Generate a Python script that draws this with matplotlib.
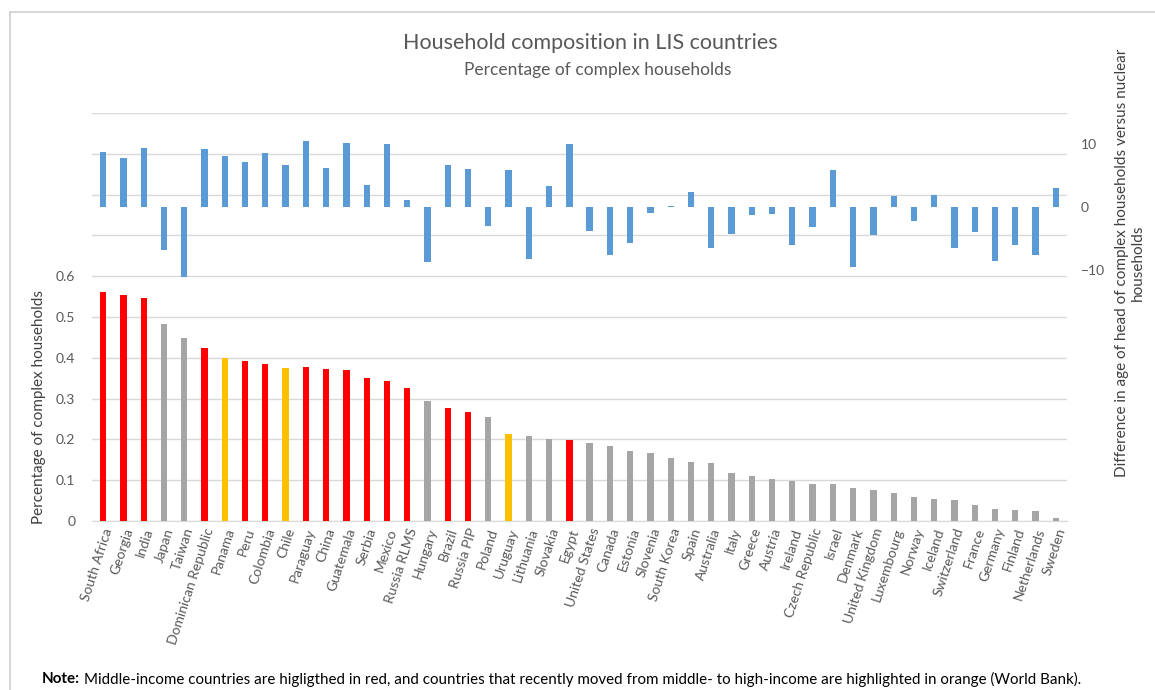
import matplotlib
matplotlib.use("Agg")
import matplotlib.pyplot as plt
from matplotlib.lines import Line2D

plt.rcParams['font.family'] = ['Lato', 'DejaVu Sans']

countries = ["South Africa", "Georgia", "India", "Japan", "Taiwan", "Dominican Republic",
             "Panama", "Peru", "Colombia", "Chile", "Paraguay", "China", "Guatemala",
             "Serbia", "Mexico", "Russia RLMS", "Hungary", "Brazil", "Russia PIP", "Poland",
             "Uruguay", "Lithuania", "Slovakia", "Egypt", "United States", "Canada",
             "Estonia", "Slovenia", "South Korea", "Spain", "Australia", "Italy", "Greece",
             "Austria", "Ireland", "Czech Republic", "Israel", "Denmark", "United Kingdom",
             "Luxembourg", "Norway", "Iceland", "Switzerland", "France", "Germany",
             "Finland", "Netherlands", "Sweden"]

share_complex = [0.562, 0.553, 0.546, 0.483, 0.448, 0.423, 0.399, 0.391, 0.386, 0.376,
                 0.377, 0.373, 0.369, 0.351, 0.344, 0.325, 0.293, 0.278, 0.268, 0.255,
                 0.214, 0.209, 0.201, 0.199, 0.190, 0.183, 0.171, 0.167, 0.154, 0.145,
                 0.142, 0.117, 0.110, 0.104, 0.099, 0.091, 0.091, 0.082, 0.075, 0.069,
                 0.059, 0.053, 0.051, 0.040, 0.029, 0.026, 0.025, 0.007]

age_diff = [8.8, 7.9, 9.4, -6.8, -11.2, 9.2, 8.2, 7.2, 8.7, 6.7,
            10.6, 6.3, 10.2, 3.6, 10.0, 1.1, -8.8, 6.7, 6.1, -3.0,
            5.9, -8.3, 3.4, 10.0, -3.8, -7.7, -5.7, -0.9, 0.2, 2.4,
            -6.5, -4.2, -1.2, -1.1, -6.1, -3.2, 5.9, -9.6, -4.5, 1.7,
            -2.2, 2.0, -6.5, -4.0, -8.5, -6.0, -7.7, 3.0]

# income group: M = middle income (red), R = recently moved to high income (orange), H = other (grey)
income_group = ["M", "M", "M", "H", "H", "M", "R", "M", "M", "R",
                "M", "M", "M", "M", "M", "M", "H", "M", "M", "H",
                "R", "H", "H", "M"] + ["H"] * 24

group_colors = {"M": "#ff0000", "R": "#ffc000", "H": "#a5a5a5"}

fig = plt.figure(figsize=(11.55, 6.9), dpi=100)
ax = fig.add_axes([92 / 1155, 1 - 521 / 690, (1067 - 92) / 1155, (521 - 113) / 690])

x = list(range(len(countries)))
ax.bar(x, share_complex, width=0.31, color=[group_colors[g] for g in income_group], zorder=3)
ax.set_ylim(0, 1.0)
ax.set_xlim(-0.55, 47.55)
ax.set_yticks([i / 10 for i in range(11)])
ax.set_yticklabels(["0", "0.1", "0.2", "0.3", "0.4", "0.5", "0.6", "", "", "", ""])
ax.grid(axis="y", color="#d9d9d9", linewidth=1.0, zorder=0)
ax.tick_params(axis="y", length=0, labelsize=10, labelcolor="#595959", pad=12)
ax.tick_params(axis="x", length=0, labelsize=10, labelcolor="#595959", pad=4)
ax.set_xticks(x)
ax.set_xticklabels(countries, rotation=72, ha="right", rotation_mode="anchor")
for s in ["top", "right", "left"]:
    ax.spines[s].set_visible(False)
ax.spines["bottom"].set_color("#d9d9d9")
ax.set_ylabel("Percentage of complex households", fontsize=11, color="#404040")
ax.yaxis.set_label_coords(-0.047, 0.28)

ax2 = ax.twinx()
ax2.bar(x, age_diff, width=0.31, color="#5b9bd5", zorder=3)
ax2.set_ylim(-50, 15)
ax2.set_yticks([-10, 0, 10])
ax2.tick_params(axis="y", length=0, labelsize=10, labelcolor="#595959", pad=10)
for s in ["top", "right", "left", "bottom"]:
    ax2.spines[s].set_visible(False)

fig.text(1130 / 1155, 1 - 263 / 690,
         "Difference in age of head of complex households versus nuclear\nhouseholds",
         rotation=90, ha="center", va="center", fontsize=11, color="#404040",
         multialignment="center")

fig.text(590 / 1155, 1 - 43 / 690, "Household composition in LIS countries",
         ha="center", va="center", fontsize=15.5, color="#595959")
fig.text(598 / 1155, 1 - 70 / 690, "Percentage of complex households",
         ha="center", va="center", fontsize=12.5, color="#595959")

note_y = 1 - 679 / 690
t_note = fig.text(42 / 1155, note_y, "Note:", ha="left", va="center", fontsize=10.9,
                  fontweight="bold", color="black")
fig.canvas.draw()
bb = t_note.get_window_extent(renderer=fig.canvas.get_renderer())
fig.text((bb.x1 + 4) / 1155, note_y,
         "Middle-income countries are higligthed in red, and countries that recently moved from middle- to high-income are highlighted in orange (World Bank).",
         ha="left", va="center", fontsize=10.9, color="black")

# frame lines
fig.add_artist(Line2D([10 / 1155, 1.0], [1 - 12 / 690, 1 - 12 / 690], color="#d0d0d0", linewidth=1.2))
fig.add_artist(Line2D([10 / 1155, 10 / 1155], [0, 1 - 12 / 690], color="#d0d0d0", linewidth=1.2))

fig.savefig("out.png", dpi=100)
